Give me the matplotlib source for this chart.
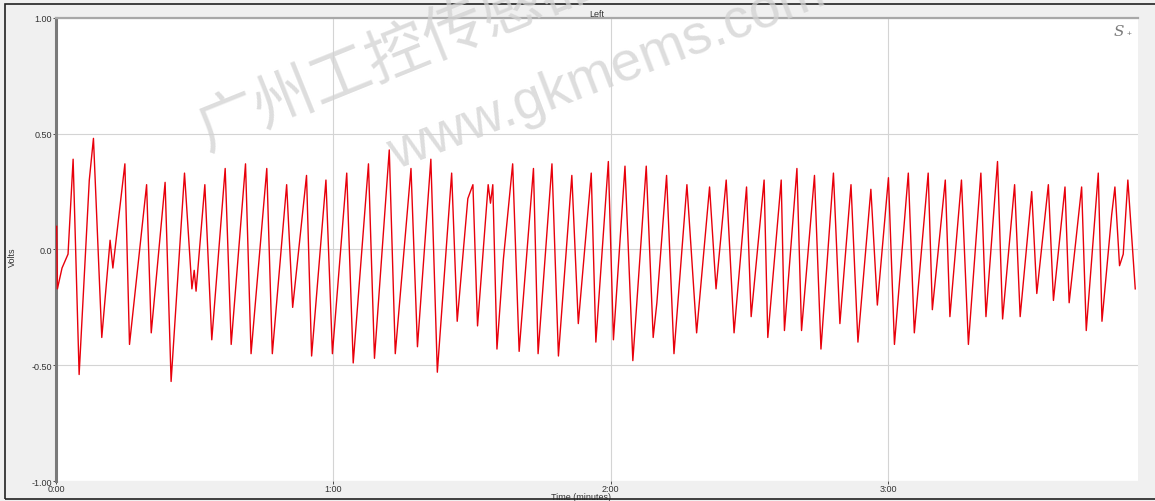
import matplotlib.pyplot as plt
from matplotlib.patches import Rectangle

# recorded trace: turning points of the signal (seconds, volts)
seconds = [0.15, 0.3, 1.3, 2.6, 3.7, 5.0, 7.2, 8.1, 9.9, 11.7, 12.3, 14.9, 15.9,
           19.6, 20.6, 23.6, 24.9, 27.8, 29.4, 29.9, 30.3, 32.2, 33.7, 36.6, 37.9,
           41.0, 42.2, 45.6, 46.8, 49.9, 51.2, 54.2, 55.3, 58.4, 59.8, 62.9, 64.3,
           67.6, 68.9, 72.1, 73.4, 76.8, 78.2, 81.1, 82.5, 85.6, 86.8, 89.1, 90.2,
           91.2, 93.5, 94.0, 94.5, 95.4, 96.8, 98.8, 100.2, 103.3, 104.3, 107.3,
           108.7, 111.6, 113.0, 115.8, 116.8, 119.5, 120.6, 123.1, 124.8, 127.7,
           129.2, 130.0, 132.1, 133.7, 136.5, 138.6, 141.4, 142.8, 145.0, 146.7,
           149.4, 150.4, 153.2, 154.0, 156.9, 157.6, 160.3, 161.3, 164.1, 165.5,
           168.2, 169.6, 172.0, 173.5, 176.3, 177.7, 180.1, 181.4, 184.4, 185.7,
           188.7, 189.6, 192.4, 193.4, 195.9, 197.4, 200.1, 201.2, 203.7, 204.8,
           207.4, 208.6, 211.1, 212.2, 214.7, 215.8, 218.3, 219.2, 221.9, 222.9,
           225.5, 226.3, 228.4, 229.1, 230.1, 230.9, 231.9, 233.5]
volts = [0.10, -0.17, -0.08, -0.02, 0.39, -0.54, 0.30, 0.48, -0.38, 0.04, -0.08, 0.37, -0.41,
         0.28, -0.36, 0.29, -0.57, 0.33, -0.17, -0.09, -0.18, 0.28, -0.39, 0.35, -0.41,
         0.37, -0.45, 0.35, -0.45, 0.28, -0.25, 0.32, -0.46, 0.30, -0.45, 0.33, -0.49,
         0.37, -0.47, 0.43, -0.45, 0.35, -0.42, 0.39, -0.53, 0.33, -0.31, 0.22, 0.28,
         -0.33, 0.28, 0.20, 0.28, -0.43, -0.04, 0.37, -0.44, 0.35, -0.45, 0.37,
         -0.46, 0.32, -0.32, 0.33, -0.40, 0.38, -0.39, 0.36, -0.48, 0.36,
         -0.38, -0.23, 0.32, -0.45, 0.28, -0.36, 0.27, -0.17, 0.30, -0.36,
         0.27, -0.29, 0.30, -0.38, 0.30, -0.35, 0.35, -0.35, 0.32, -0.43,
         0.33, -0.32, 0.28, -0.40, 0.26, -0.24, 0.31, -0.41, 0.33, -0.36,
         0.33, -0.26, 0.30, -0.29, 0.30, -0.41, 0.33, -0.29, 0.38, -0.30,
         0.28, -0.29, 0.25, -0.19, 0.28, -0.22, 0.27, -0.23, 0.27, -0.35,
         0.33, -0.31, 0.15, 0.27, -0.07, -0.02, 0.30, -0.17]

x_ticks = [0, 60, 120, 180]
x_labels = ['0:00', '1:00', '2:00', '3:00']
y_ticks = [-1.0, -0.5, 0.0, 0.5, 1.0]
y_labels = ['-1.00', '-0.50', '0.0', '0.50', '1.00']

plt.rcParams['font.family'] = ['Liberation Sans', 'DejaVu Sans']

fig = plt.figure(figsize=(11.55, 5.02), dpi=100, facecolor='#f0f0f0')
ax = fig.add_axes([0.0485, 0.0398, 0.9368, 0.9224])
ax.set_facecolor('white')

ax.plot(seconds, volts, color='#e8000b', linewidth=1.0, zorder=3)

ax.set_xlim(0, 234.1)
ax.set_ylim(-1, 1)
ax.set_xticks(x_ticks)
ax.set_xticklabels(x_labels)
ax.set_yticks(y_ticks)
ax.set_yticklabels(y_labels)
ax.tick_params(labelsize=6.5, colors='#333333', length=2, width=0.6, pad=1)
ax.tick_params(axis='x', pad=0.3)
ax.grid(True, color='#d4d4d4', linewidth=0.8)

for side in ['right', 'bottom']:
    ax.spines[side].set_visible(False)
ax.spines['left'].set_color('#7a7a7a')
ax.spines['left'].set_linewidth(2.2)
ax.spines['top'].set_color('#a8a8a8')
ax.spines['top'].set_linewidth(1.6)

ax.set_xlabel('Time (minutes)', fontsize=6.5, color='#333333')
ax.xaxis.set_label_coords(0.485, -0.0235)
ax.set_ylabel('Volts', fontsize=6.5, color='#333333')
ax.yaxis.set_label_coords(-0.036, 0.485)
ax.set_title('Left', fontsize=6.5, color='#333333', pad=1)

# logo in the corner
fig.text(0.964, 0.937, 'S', fontsize=11, family='DejaVu Serif', style='italic',
         color='#7a7a7a', ha='left', va='center')
fig.text(0.9755, 0.932, '+', fontsize=6, color='#7a7a7a', ha='left', va='center')

# watermark
fig.text(0.163, 0.675, '广州工控传感器', fontsize=44, rotation=22,
         family=['Noto Sans CJK SC', 'DejaVu Sans'], color='#d2d2d2', alpha=0.75,
         ha='left', va='bottom', zorder=10)
fig.text(0.33, 0.64, 'www.gkmems.com', fontsize=40, rotation=21,
         family=['Liberation Sans'], color='#d2d2d2', alpha=0.75,
         ha='left', va='bottom', zorder=10)

# dark frame on the top, left and bottom of the window
fig.patches.append(Rectangle((0.004, 0.003), 1.2, 0.987, transform=fig.transFigure,
                             fill=False, edgecolor='#222222', linewidth=1.2))

plt.savefig('out.png', dpi=100, facecolor=fig.get_facecolor())
